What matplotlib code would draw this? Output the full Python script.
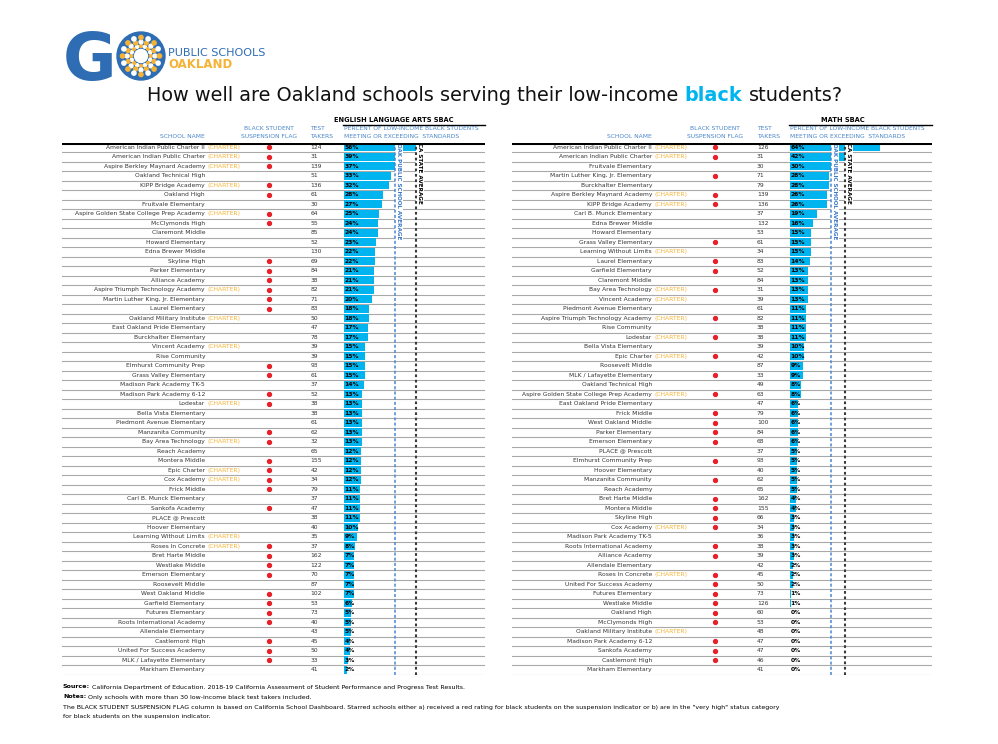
import matplotlib
matplotlib.use("Agg")
import matplotlib.pyplot as plt
import numpy as np
from matplotlib.transforms import blended_transform_factory as btf

plt.rcParams['font.family'] = ['DejaVu Sans']

# ---------------- DATA ----------------
ela_schools = ["American Indian Public Charter II", "American Indian Public Charter",
    "Aspire Berkley Maynard Academy", "Oakland Technical High", "KIPP Bridge Academy",
    "Oakland High", "Fruitvale Elementary", "Aspire Golden State College Prep Academy",
    "McClymonds High", "Claremont Middle", "Howard Elementary", "Edna Brewer Middle",
    "Skyline High", "Parker Elementary", "Alliance Academy", "Aspire Triumph Technology Academy",
    "Martin Luther King, Jr. Elementary", "Laurel Elementary", "Oakland Military Institute",
    "East Oakland Pride Elementary", "Burckhalter Elementary", "Vincent Academy",
    "Rise Community", "Elmhurst Community Prep", "Grass Valley Elementary",
    "Madison Park Academy TK-5", "Madison Park Academy 6-12", "Lodestar",
    "Bella Vista Elementary", "Piedmont Avenue Elementary", "Manzanita Community",
    "Bay Area Technology", "Reach Academy", "Montera Middle", "Epic Charter", "Cox Academy",
    "Frick Middle", "Carl B. Munck Elementary", "Sankofa Academy", "PLACE @ Prescott",
    "Hoover Elementary", "Learning Without Limits", "Roses In Concrete", "Bret Harte Middle",
    "Westlake Middle", "Emerson Elementary", "Roosevelt Middle", "West Oakland Middle",
    "Garfield Elementary", "Futures Elementary", "Roots International Academy",
    "Allendale Elementary", "Castlemont High", "United For Success Academy",
    "MLK / Lafayette Elementary", "Markham Elementary"]
ela_charter = [1,1,1,0,1,0,0,1,0,0,0,0,0,0,0,1,0,0,1,0,0,1,0,0,0,0,0,1,0,0,0,1,0,0,1,1,
               0,0,0,0,0,1,1,0,0,0,0,0,0,0,0,0,0,0,0,0]
ela_flag = [1,1,1,0,1,1,0,1,1,0,0,0,1,1,1,1,1,1,0,0,0,0,0,1,1,0,1,1,0,0,1,1,0,1,1,1,
            1,0,1,0,0,0,1,1,1,1,0,1,1,1,1,0,1,1,1,0]
ela_takers = [124,31,139,51,136,61,30,64,55,85,52,130,69,84,38,82,71,83,50,47,78,39,39,93,61,
              37,52,38,38,61,62,32,65,155,42,34,79,37,47,38,40,35,37,162,122,70,87,102,53,73,
              40,43,45,50,33,41]
ela_pct = [56,39,37,33,32,28,27,25,24,24,23,22,22,21,21,21,20,18,18,17,17,15,15,15,15,14,13,
           13,13,13,13,13,12,12,12,12,11,11,11,11,10,9,8,7,7,7,7,7,6,5,5,5,4,4,3,2]

math_schools = ["American Indian Public Charter II", "American Indian Public Charter",
    "Fruitvale Elementary", "Martin Luther King, Jr. Elementary", "Burckhalter Elementary",
    "Aspire Berkley Maynard Academy", "KIPP Bridge Academy", "Carl B. Munck Elementary",
    "Edna Brewer Middle", "Howard Elementary", "Grass Valley Elementary",
    "Learning Without Limits", "Laurel Elementary", "Garfield Elementary", "Claremont Middle",
    "Bay Area Technology", "Vincent Academy", "Piedmont Avenue Elementary",
    "Aspire Triumph Technology Academy", "Rise Community", "Lodestar", "Bella Vista Elementary",
    "Epic Charter", "Roosevelt Middle", "MLK / Lafayette Elementary", "Oakland Technical High",
    "Aspire Golden State College Prep Academy", "East Oakland Pride Elementary", "Frick Middle",
    "West Oakland Middle", "Parker Elementary", "Emerson Elementary", "PLACE @ Prescott",
    "Elmhurst Community Prep", "Hoover Elementary", "Manzanita Community", "Reach Academy",
    "Bret Harte Middle", "Montera Middle", "Skyline High", "Cox Academy",
    "Madison Park Academy TK-5", "Roots International Academy", "Alliance Academy",
    "Allendale Elementary", "Roses In Concrete", "United For Success Academy",
    "Futures Elementary", "Westlake Middle", "Oakland High", "McClymonds High",
    "Oakland Military Institute", "Madison Park Academy 6-12", "Sankofa Academy",
    "Castlemont High", "Markham Elementary"]
math_charter = [1,1,0,0,0,1,1,0,0,0,0,1,0,0,0,1,1,0,1,0,1,0,1,0,0,0,1,0,0,0,0,0,0,0,0,0,
                0,0,0,0,1,0,0,0,0,1,0,0,0,0,0,1,0,0,0,0]
math_flag = [1,1,0,1,0,1,1,0,0,0,1,0,1,1,0,1,0,0,1,0,1,0,1,0,1,0,1,0,1,1,1,1,0,1,0,1,
             0,1,1,1,1,0,1,1,0,1,1,1,1,1,1,0,1,1,1,0]
math_takers = [126,31,30,71,79,139,136,37,132,53,61,34,83,52,84,31,39,61,82,38,38,39,42,87,33,
               49,63,47,79,100,84,68,37,93,40,62,65,162,155,66,34,36,38,39,42,45,50,73,126,60,
               53,48,47,47,46,41]
math_pct = [64,42,30,28,28,26,26,19,16,15,15,15,14,13,13,13,13,11,11,11,11,10,10,9,9,8,8,6,6,
            6,6,6,5,5,5,5,5,4,4,3,3,3,3,3,2,2,2,1,1,0,0,0,0,0,0,0]

ela_avgs = [36, 51]    # OAK public school average, CA state average
math_avgs = [29, 39]
avg_labels = ["OAK PUBLIC SCHOOL AVERAGE", "CA STATE AVERAGE"]

# ---------------- STYLE ----------------
W, H = 998, 744
BAR = "#00B5EF"
HDR = "#4A86C8"
ORANGE = "#F5B335"
RED = "#E8202A"
TXT = "#333333"
FS = 4.3

fig = plt.figure(figsize=(W / 100, H / 100), dpi=100)
bg = fig.add_axes([0, 0, 1, 1], zorder=0)
bg.set_xlim(0, W)
bg.set_ylim(H, 0)
bg.axis("off")
renderer = fig.canvas.get_renderer()

TOP, BOT = 142.5, 674.5
SCALE = 1.41


def draw_table(x0, x1, zero_px, schools, charter, flag, takers, pct, avgs,
               name_px, flag_px, takers_px, title, title_cx):
    ax = fig.add_axes([x0 / W, 1 - BOT / H, (x1 - x0) / W, (BOT - TOP) / H], zorder=2)
    ax.set_xlim(-(zero_px - x0) / SCALE, (x1 - zero_px) / SCALE)
    n = len(pct)
    ax.set_ylim(n - 0.5, -0.5)
    ax.axis("off")
    y = np.arange(n)
    ax.barh(y, pct, height=0.82, color=BAR, zorder=2)
    for i in range(n):
        ax.axhline(i + 0.5, color="#A9A9A9", lw=0.8, zorder=1)
    ax.axhline(-0.5, color="black", lw=2.2, zorder=8)
    fx = lambda px: (px - x0) / (x1 - x0)
    tr = btf(ax.transAxes, ax.transData)
    for i in range(n):
        ax.text(fx(name_px), i, schools[i], ha="right", va="center", fontsize=FS,
                color=TXT, transform=tr)
        if charter[i]:
            ax.text(fx(name_px + 2.5), i, "(CHARTER)", ha="left", va="center",
                    fontsize=FS, color=ORANGE, transform=tr)
        if flag[i]:
            ax.plot([fx(flag_px)], [i], marker="o", ms=2.8, color=RED, mec=RED,
                    transform=tr, zorder=3)
        ax.text(fx(takers_px), i, str(takers[i]), ha="left", va="center", fontsize=FS,
                color=TXT, transform=tr)
        ax.text(0.3, i, f"{pct[i]}%", ha="left", va="center", fontsize=FS,
                fontweight="bold", color="black", zorder=4)
    # averages
    ax.axvline(avgs[0], color="#4A86D0", lw=1.1, ls=(0, (2, 1.4)), zorder=7)
    ax.axvline(avgs[1], color="#3A3A3A", lw=1.5, ls=(0, (1.3, 1.3)), zorder=7)
    ax.text(avgs[0] + 1.0, -0.42, avg_labels[0], rotation=-90, ha="left", va="top",
            fontsize=4.1, fontweight="bold", color="#3C78C8", zorder=6,
            bbox=dict(fc="white", ec="none", pad=1.2))
    ax.text(avgs[1] + 1.0, -0.42, avg_labels[1], rotation=-90, ha="left", va="top",
            fontsize=4.1, fontweight="bold", color="black", zorder=6,
            bbox=dict(fc="white", ec="none", pad=1.2))
    # headers
    bg.text(name_px, 136.5, "SCHOOL NAME", ha="right", va="center", fontsize=FS, color=HDR)
    bg.text(flag_px, 128.5, "BLACK STUDENT", ha="center", va="center", fontsize=FS, color=HDR)
    bg.text(flag_px, 136.5, "SUSPENSION FLAG", ha="center", va="center", fontsize=FS,
            color=HDR)
    bg.text(takers_px, 128.5, "TEST", ha="left", va="center", fontsize=FS, color=HDR)
    bg.text(takers_px, 136.5, "TAKERS", ha="left", va="center", fontsize=FS, color=HDR)
    bg.text(zero_px, 128.5, "PERCENT OF LOW-INCOME BLACK STUDENTS", ha="left", va="center",
            fontsize=FS, color=HDR)
    bg.text(zero_px, 136.5, "MEETING OR EXCEEDING  STANDARDS", ha="left", va="center",
            fontsize=FS, color=HDR)
    bg.text(title_cx, 120, title, ha="center", va="center", fontsize=4.8,
            fontweight="bold", color="black")
    bg.plot([zero_px - 1, x1], [124.7, 124.7], color="black", lw=1.0)


draw_table(62, 485, 344, ela_schools, ela_charter, ela_flag, ela_takers, ela_pct, ela_avgs,
           205, 269, 310.5, "ENGLISH LANGUAGE ARTS SBAC", 394)
draw_table(512, 932, 790, math_schools, math_charter, math_flag, math_takers, math_pct,
           math_avgs, 652, 715, 757, "MATH SBAC", 843)

# ---------------- LOGO ----------------
LOGO_BLUE = "#2E6DB4"
bg.text(63, 80, "G", fontsize=47, fontweight="heavy", color=LOGO_BLUE, ha="left",
        va="baseline")
cx, cy, r = 141, 56, 24
bg.add_patch(plt.Circle((cx, cy), r, color=LOGO_BLUE))
bg.add_patch(plt.Circle((cx, cy), 6.5, color="white"))
for k in range(16):
    a = 2 * np.pi * k / 16
    for j, (rr, s) in enumerate([(10, 1.5), (14, 1.9), (18.5, 2.1)]):
        col = "#F5B335" if (k + j) % 2 == 0 else "white"
        bg.add_patch(plt.Circle((cx + rr * np.cos(a), cy + rr * np.sin(a)), s, color=col))
bg.text(168, 56, "PUBLIC SCHOOLS", fontsize=8, color=LOGO_BLUE, ha="left", va="baseline")
bg.text(168, 67.5, "OAKLAND", fontsize=8.5, fontweight="bold", color="#F5B335", ha="left",
        va="baseline")


def text_width(s, **kw):
    t = bg.text(0, 0, s, **kw)
    w = t.get_window_extent(renderer).width
    t.remove()
    return w


# ---------------- TITLE ----------------
TFS = 13.9
parts = [("How well are Oakland schools serving their low-income", "normal", "#111111"),
         ("black", "bold", "#00B5EF"), ("students?", "normal", "#111111")]
space = text_width("x x", fontsize=TFS) - text_width("xx", fontsize=TFS)
widths = [text_width(s, fontsize=TFS, fontweight=w_) for s, w_, c in parts]
total = sum(widths) + space * (len(parts) - 1)
xs = 495 - total / 2
for (s, w_, c), wd in zip(parts, widths):
    bg.text(xs, 101, s, fontsize=TFS, fontweight=w_, color=c, ha="left", va="baseline")
    xs += wd + space

# ---------------- FOOTER ----------------
FFS = 4.5
fsp = text_width("x x", fontsize=FFS) - text_width("xx", fontsize=FFS)
for yy, lab, rest in [(687, "Source:", "California Department of Education. 2018-19 California "
                       "Assessment of Student Performance and Progress Test Results."),
                      (697, "Notes:", "Only schools with more than 30 low-income black test "
                       "takers included.")]:
    bg.text(63, yy, lab, fontsize=FFS, fontweight="bold", ha="left", va="center")
    wl = text_width(lab, fontsize=FFS, fontweight="bold")
    bg.text(63 + wl + fsp, yy, rest, fontsize=FFS, ha="left", va="center")
bg.text(63, 707, "The BLACK STUDENT SUSPENSION FLAG column is based on California School "
        "Dashboard. Starred schools either a) received a red rating for black students on the "
        "suspension indicator or b) are in the \"very high\" status category",
        fontsize=FFS, ha="left", va="center")
bg.text(63, 716.5, "for black students on the suspension indicator.", fontsize=FFS, ha="left",
        va="center")

fig.savefig("out.png", dpi=100)
